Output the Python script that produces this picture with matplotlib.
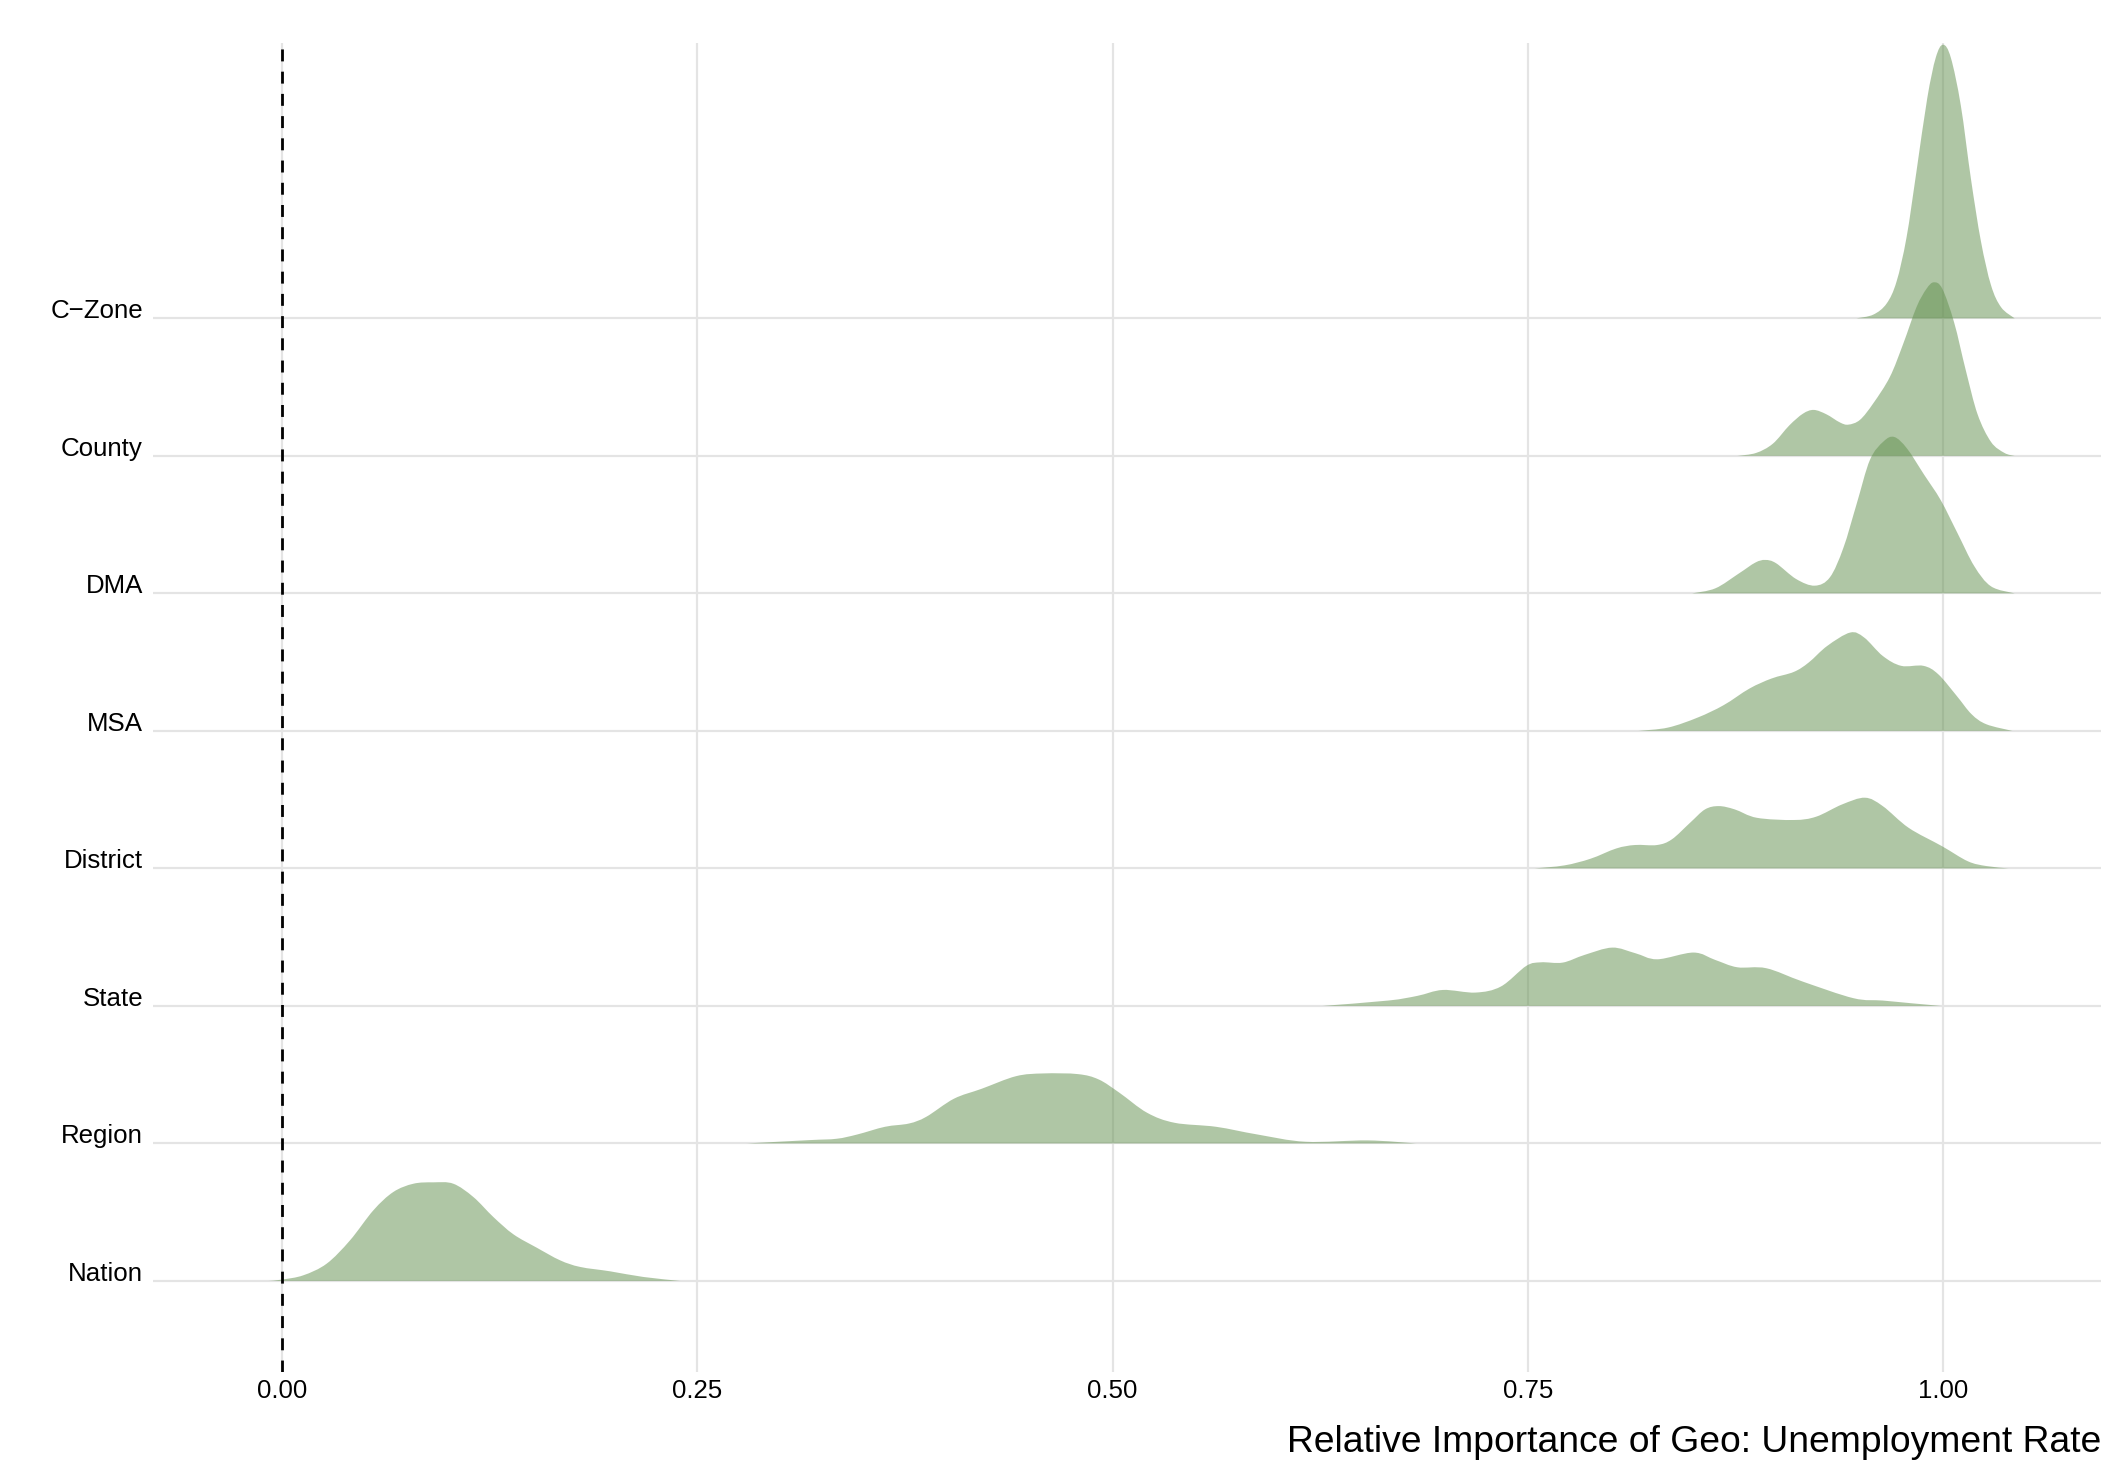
import numpy as np
import matplotlib
matplotlib.use('Agg')
import matplotlib.pyplot as plt
from matplotlib.path import Path
from matplotlib.patches import PathPatch

plt.rcParams['font.family'] = ['Liberation Sans', 'DejaVu Sans']

# rows from bottom to top
categories = ['Nation', 'Region', 'State', 'District', 'MSA', 'DMA', 'County', 'C\u2212Zone']

# ridge outlines: x = relative importance, h = scaled density (1 = one row)
nation_x = [-0.008, 0.0, 0.0128, 0.0269, 0.0409, 0.055, 0.067, 0.0791, 0.0911, 0.1031,
            0.1152, 0.1272, 0.1393, 0.1533, 0.1674, 0.1794, 0.1975, 0.2175, 0.2396]
nation_h = [0.0, 0.010, 0.041, 0.126, 0.295, 0.514, 0.647, 0.707, 0.717, 0.707,
            0.610, 0.465, 0.339, 0.242, 0.150, 0.102, 0.070, 0.029, 0.0]

region_x = [0.2799, 0.3173, 0.3339, 0.3463, 0.363, 0.3775, 0.3879, 0.4045, 0.4211, 0.4419,
            0.4585, 0.4792, 0.4917, 0.5042, 0.5208, 0.5374, 0.5623, 0.5872, 0.6163, 0.6537, 0.6827]
region_h = [0.0, 0.024, 0.034, 0.065, 0.121, 0.145, 0.194, 0.325, 0.397, 0.489,
            0.509, 0.504, 0.465, 0.368, 0.223, 0.150, 0.121, 0.065, 0.012, 0.022, 0.0]

state_x = [0.6265, 0.666, 0.6835, 0.6988, 0.7185, 0.7338, 0.7491, 0.7579, 0.771, 0.7842, 0.8008,
           0.8148, 0.8279, 0.8498, 0.8629, 0.8761, 0.8936, 0.9155, 0.9461, 0.9637, 0.9812, 0.9987]
state_h = [0.0, 0.039, 0.073, 0.116, 0.097, 0.141, 0.291, 0.317, 0.315, 0.371, 0.424,
           0.383, 0.339, 0.388, 0.334, 0.281, 0.274, 0.177, 0.056, 0.039, 0.019, 0.0]

district_x = [0.7542, 0.7721, 0.7877, 0.8033, 0.8144, 0.8278, 0.8367, 0.8478, 0.8567, 0.865, 0.8746,
              0.8879, 0.9102, 0.9236, 0.9392, 0.953, 0.9637, 0.9793, 0.9993, 1.0149, 1.0261, 1.0394]
district_h = [0.0, 0.022, 0.070, 0.145, 0.170, 0.170, 0.211, 0.333, 0.429, 0.453, 0.429,
              0.368, 0.352, 0.376, 0.465, 0.514, 0.453, 0.295, 0.162, 0.052, 0.017, 0.0]

msa_x = [0.8166, 0.8344, 0.8523, 0.8679, 0.8835, 0.8968, 0.9102, 0.9191, 0.9303, 0.9441,
         0.9525, 0.9637, 0.9748, 0.9882, 0.9971, 1.0082, 1.0172, 1.0261, 1.0417]
msa_h = [0.0, 0.024, 0.097, 0.187, 0.308, 0.381, 0.429, 0.497, 0.618, 0.715,
         0.679, 0.545, 0.473, 0.473, 0.412, 0.255, 0.121, 0.048, 0.0]

dma_x = [0.849, 0.863, 0.877, 0.887, 0.893, 0.8995, 0.9116, 0.9228, 0.9319, 0.940, 0.948,
         0.956, 0.9642, 0.9707, 0.9784, 0.9885, 0.9986, 1.0087, 1.0188, 1.0289, 1.0431]
dma_h = [0.0, 0.037, 0.144, 0.224, 0.243, 0.219, 0.104, 0.056, 0.117, 0.331, 0.651,
         0.971, 1.105, 1.137, 1.052, 0.865, 0.678, 0.438, 0.198, 0.051, 0.0]

county_x = [0.8763, 0.8874, 0.8975, 0.9075, 0.9157, 0.9222, 0.9298, 0.9379, 0.943, 0.950, 0.958,
            0.968, 0.976, 0.984, 0.990, 0.9945, 0.9996, 1.0067, 1.0137, 1.0208, 1.0289, 1.037, 1.0431]
county_h = [0.0, 0.021, 0.088, 0.222, 0.307, 0.334, 0.302, 0.243, 0.227, 0.262, 0.382,
            0.574, 0.814, 1.081, 1.214, 1.262, 1.214, 0.969, 0.622, 0.302, 0.101, 0.021, 0.0]

czone_x = [0.9479, 0.958, 0.966, 0.972, 0.978, 0.984, 0.9905, 0.9956, 1.0, 1.0047,
           1.0107, 1.0168, 1.0228, 1.0289, 1.035, 1.0431]
czone_h = [0.0, 0.027, 0.107, 0.267, 0.587, 1.068, 1.601, 1.895, 1.99, 1.895,
           1.548, 1.014, 0.561, 0.240, 0.080, 0.0]

ridges_x = [nation_x, region_x, state_x, district_x, msa_x, dma_x, county_x, czone_x]
ridges_h = [nation_h, region_h, state_h, district_h, msa_h, dma_h, county_h, czone_h]

xticks = [0.0, 0.25, 0.5, 0.75, 1.0]
xtick_labels = ['0.00', '0.25', '0.50', '0.75', '1.00']


def ridge_path(xs, hs, base):
    # smooth outline through the read points (Catmull-Rom drawn as cubic Bezier)
    pts = np.column_stack([xs, np.array(hs) + base])
    n = len(pts)
    verts = [pts[0]]
    codes = [Path.MOVETO]
    for i in range(n - 1):
        p0 = pts[max(i - 1, 0)]
        p1 = pts[i]
        p2 = pts[i + 1]
        p3 = pts[min(i + 2, n - 1)]
        c1 = p1 + (p2 - p0) / 6.0
        c2 = p2 - (p3 - p1) / 6.0
        c1[1] = max(c1[1], base)
        c2[1] = max(c2[1], base)
        verts += [c1, c2, p2]
        codes += [Path.CURVE4] * 3
    verts += [(pts[-1][0], base), (pts[0][0], base), pts[0]]
    codes += [Path.LINETO, Path.LINETO, Path.CLOSEPOLY]
    return Path(verts, codes)


W, H = 2105, 1461
fig = plt.figure(figsize=(W / 100, H / 100), dpi=100)
ax = fig.add_axes([153 / W, 1 - 1371.7 / H, (2101 - 153) / W, (1371.7 - 43.3) / H])

fill_color = '#618f4d'
# top rows first so lower ridges sit on top
for i in range(len(categories) - 1, -1, -1):
    p = ridge_path(ridges_x[i], ridges_h[i], i + 1)
    ax.add_patch(PathPatch(p, facecolor=fill_color, alpha=0.5, lw=0, zorder=2))

ax.axvline(0, color='black', lw=2, dashes=(4.3, 3.7), zorder=3)

ax.set_xlim(-0.0777, 1.0951)
ax.set_ylim(0.34, 10.0)
ax.set_xticks(xticks)
ax.set_xticklabels(xtick_labels)
ax.set_yticks(range(1, len(categories) + 1))
ax.set_yticklabels(categories)
for lab in ax.get_yticklabels():
    lab.set_verticalalignment('baseline')

ax.tick_params(axis='both', length=0, labelsize=18.6, colors='black')
ax.tick_params(axis='y', pad=7.2)
ax.tick_params(axis='x', pad=5.5)
ax.grid(True, color='#e4e4e4', lw=1.6)
ax.set_axisbelow(True)
for s in ax.spines.values():
    s.set_visible(False)

fig.text(2101 / W, 1 - 1451.7 / H, 'Relative Importance of Geo: Unemployment Rate',
         ha='right', va='baseline', fontsize=26.8)

fig.savefig('out.png', dpi=100, facecolor='white')
